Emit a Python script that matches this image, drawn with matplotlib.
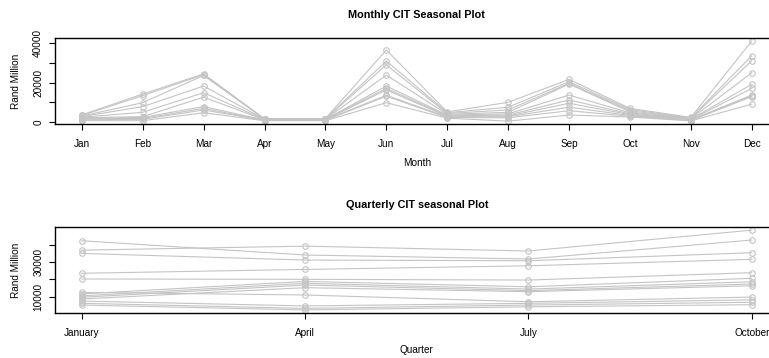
import matplotlib
matplotlib.use("Agg")
import matplotlib.pyplot as plt

plt.rcParams['font.family'] = ['Liberation Sans', 'DejaVu Sans']

# month names / quarter names used as x categories
months = 'Jan Feb Mar Apr May Jun Jul Aug Sep Oct Nov Dec'.split()
quarters = ['January', 'April', 'July', 'October']

# monthly CIT, one list per year (Rand million)
m_year1 = [3500, 14100, 24400, 1500, 1600, 36600, 5000, 9900, 21600, 6800, 2200, 41200]
m_year2 = [3200, 13300, 24000, 1400, 1500, 31000, 4600, 7400, 20400, 6200, 1900, 33700]
m_year3 = [2900, 9700, 23600, 1300, 1400, 29000, 4200, 6000, 19600, 5600, 1700, 31100]
m_year4 = [2600, 7700, 18200, 1200, 1300, 23800, 3800, 4800, 19200, 5000, 1500, 25000]
m_year5 = [2300, 4800, 14800, 1100, 1200, 18200, 3400, 4000, 13600, 4500, 1300, 19100]
m_year6 = [2000, 2600, 12500, 1000, 1100, 17000, 3000, 3400, 11100, 4000, 1100, 17000]
m_year7 = [1700, 2200, 7700, 900, 1000, 16200, 2700, 2900, 9400, 3600, 900, 13600]
m_year8 = [1400, 1700, 6800, 800, 900, 13500, 2400, 2500, 7400, 3200, 800, 13300]
m_year9 = [1000, 1200, 6000, 700, 700, 13000, 2100, 2000, 5600, 2800, 600, 12800]
m_year10 = [500, 500, 4600, 500, 500, 9700, 1800, 300, 3400, 2400, 400, 9000]
monthly = [m_year1, m_year2, m_year3, m_year4, m_year5, m_year6, m_year7,
           m_year8, m_year9, m_year10]

# quarterly CIT, one list per year
q_year1 = [36800, 39100, 36300, 48300]
q_year2 = [42200, 34000, 31700, 42600]
q_year3 = [34900, 31100, 30700, 35300]
q_year4 = [23500, 25700, 27800, 31500]
q_year5 = [20200, 20000, 19600, 23800]
q_year6 = [11600, 18800, 15700, 20600]
q_year7 = [10500, 17700, 14400, 18600]
q_year8 = [9700, 16700, 13500, 17300]
q_year9 = [8700, 15200, 12900, 16300]
q_year10 = [12500, 11000, 7100, 9800]
q_year11 = [7500, 4700, 6200, 8200]
q_year12 = [6200, 3300, 5200, 6800]
q_year13 = [5200, 2400, 4200, 5400]
quarterly = [q_year1, q_year2, q_year3, q_year4, q_year5, q_year6, q_year7,
             q_year8, q_year9, q_year10, q_year11, q_year12, q_year13]

W, H = 769, 358
fig = plt.figure(figsize=(W / 100, H / 100), dpi=100)

# plot regions in pixels (left, top, right, bottom); right edge runs past the image like the original
ax1 = fig.add_axes([55 / W, 1 - 124 / H, 723.6 / W, 85.7 / H])
ax2 = fig.add_axes([55 / W, 1 - 313 / H, 723.6 / W, 85.7 / H])

line_kw = dict(color='#c4c4c4', lw=0.8, marker='o', ms=4, mfc='none', mew=0.8)

x1 = list(range(1, 13))
for yr in monthly:
    ax1.plot(x1, yr, **line_kw)
ax1.set_xlim(0.56, 12.44)
ax1.set_ylim(-1170, 42550)
ax1.set_xticks(x1)
ax1.set_xticklabels(months)
ax1.set_yticks([0, 10000, 20000, 30000, 40000])
ax1.set_yticklabels(['0', '', '20000', '', '40000'], rotation=90, va='center')

x2 = list(range(1, 5))
for yr in quarterly:
    ax2.plot(x2, yr, **line_kw)
ax2.set_xlim(0.88, 4.12)
ax2.set_ylim(630, 49940)
ax2.set_xticks(x2)
ax2.set_xticklabels(quarters)
ax2.set_yticks([10000, 20000, 30000, 40000])
ax2.set_yticklabels(['10000', '', '30000', ''], rotation=90, va='center')

for ax in (ax1, ax2):
    for s in ax.spines.values():
        s.set_linewidth(1.0)
    ax.tick_params(axis='both', direction='out', length=4.5, width=0.8, labelsize=7.2, pad=4)
    ax.tick_params(axis='x', pad=6)

cx = (55 + 778.6) / 2 / W
fig.text(cx, 1 - 15 / H, 'Monthly CIT Seasonal Plot', ha='center', va='center',
         fontsize=7.8, fontweight='bold')
fig.text(cx, 1 - 163 / H, 'Month', ha='center', va='center', fontsize=7.2)
fig.text(cx, 1 - 205 / H, 'Quarterly CIT seasonal Plot', ha='center', va='center',
         fontsize=7.8, fontweight='bold')
fig.text(cx, 1 - 350 / H, 'Quarter', ha='center', va='center', fontsize=7.2)
fig.text(16 / W, 1 - 81 / H, 'Rand Million', rotation=90, ha='center', va='center', fontsize=7.2)
fig.text(16 / W, 1 - 270 / H, 'Rand Million', rotation=90, ha='center', va='center', fontsize=7.2)

fig.savefig('out.png', dpi=100)
